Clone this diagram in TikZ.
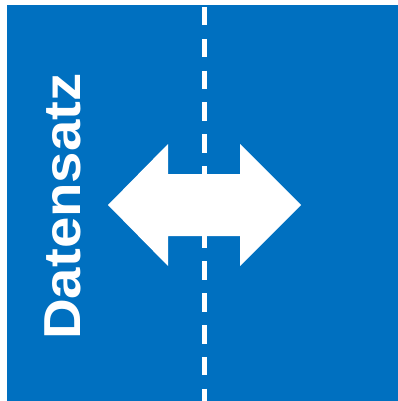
\documentclass[tikz,border=0pt]{standalone}
\usepackage{fontspec}
\setmainfont{Liberation Sans}
\definecolor{panelblue}{RGB}{0,112,192}
\tikzset{
  panel/.style={fill=panelblue, draw=none},
  divider/.style={draw=white, line width=4.5pt, dash pattern=on 18.5pt off 13.3pt},
  bigarrow/.style={fill=white, draw=none},
  label/.style={text=white, font=\fontsize{52}{60}\selectfont\bfseries, inner sep=0pt}
}
\begin{document}
\begin{tikzpicture}[x=1pt,y=-1pt]
\useasboundingbox (0,0) rectangle (398,401);
\fill[panel] (7,5) rectangle (398,401);
\coordinate (dtop) at (204.5,7);
\coordinate (dbot) at (204.5,401);
\draw[divider] (dtop) -- (dbot);
\fill[bigarrow] (108,205) -- (168,144) -- (168,174) -- (240,174) -- (240,144) -- (301,205) -- (240,266) -- (240,236) -- (168,236) -- (168,266) -- cycle;
\node[label, rotate=90, anchor=base] (lbl) at (80,206.5) {\scalebox{1.085}[1]{Datensatz}};
\end{tikzpicture}
\end{document}
